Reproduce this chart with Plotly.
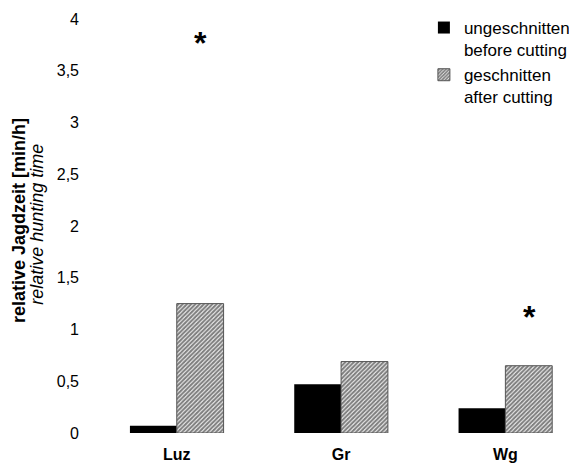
import plotly.graph_objects as go

categories = ["Luz", "Gr", "Wg"]
before_cutting = [0.07, 0.47, 0.24]
after_cutting = [1.25, 0.69, 0.65]
sig_categories = ["Luz", "Wg"]
sig_y = [3.80, 1.15]
y_tickvals = [0, 0.5, 1, 1.5, 2, 2.5, 3, 3.5, 4]
y_ticktext = ["0", "0,5", "1", "1,5", "2", "2,5", "3", "3,5", "4"]

FONT = "Liberation Sans, Arial, Helvetica, sans-serif"

fig = go.Figure()
fig.add_trace(go.Bar(
    x=categories, y=before_cutting,
    name="ungeschnitten<br>before cutting",
    marker=dict(color="black", line=dict(width=0)),
))
fig.add_trace(go.Bar(
    x=categories, y=after_cutting,
    name="geschnitten<br>after cutting",
    marker=dict(color="white",
                line=dict(width=1, color="#555555"),
                pattern=dict(shape="/", fgcolor="black", bgcolor="white",
                             size=3, solidity=0.7)),
))

for c, yv in zip(sig_categories, sig_y):
    fig.add_annotation(x=c, y=yv, xref="x", yref="y", text="<b>*</b>",
                       showarrow=False, xshift=24, yshift=-3,
                       font=dict(size=32, color="black", family=FONT))

fig.add_annotation(xref="paper", yref="paper", x=0, y=0.507,
                   xshift=-71, xanchor="center", yanchor="middle",
                   text="<b>relative Jagdzeit [min/h]</b>", textangle=-90,
                   showarrow=False, font=dict(size=18, color="black", family=FONT))
fig.add_annotation(xref="paper", yref="paper", x=0, y=0.498,
                   xshift=-53, xanchor="center", yanchor="middle",
                   text="<i>relative hunting time</i>", textangle=-90,
                   showarrow=False, font=dict(size=18, color="black", family=FONT))

fig.update_layout(
    width=569, height=461,
    margin=dict(l=82, r=5, t=2, b=36),
    paper_bgcolor="white", plot_bgcolor="white",
    barmode="group", bargap=0.43, bargroupgap=0,
    font=dict(family=FONT, size=16, color="black"),
    showlegend=True,
    legend=dict(x=0.70, y=1.012, xanchor="left", yanchor="top",
                valign="top", font=dict(size=17, family=FONT),
                bgcolor="rgba(0,0,0,0)", tracegroupgap=4),
    xaxis=dict(range=[-0.528, 2.375], showgrid=False, zeroline=False,
               showline=False, ticks="",
               tickvals=categories,
               ticktext=["<b>" + c + "</b>" for c in categories],
               tickfont=dict(size=16, family=FONT),
               ticklabelstandoff=10),
    yaxis=dict(range=[0, 4.038], showgrid=False, zeroline=False,
               showline=False, ticks="",
               tickvals=y_tickvals, ticktext=y_ticktext,
               tickfont=dict(size=16, family=FONT),
               ticklabelstandoff=10),
)

fig.write_html("out.html")
